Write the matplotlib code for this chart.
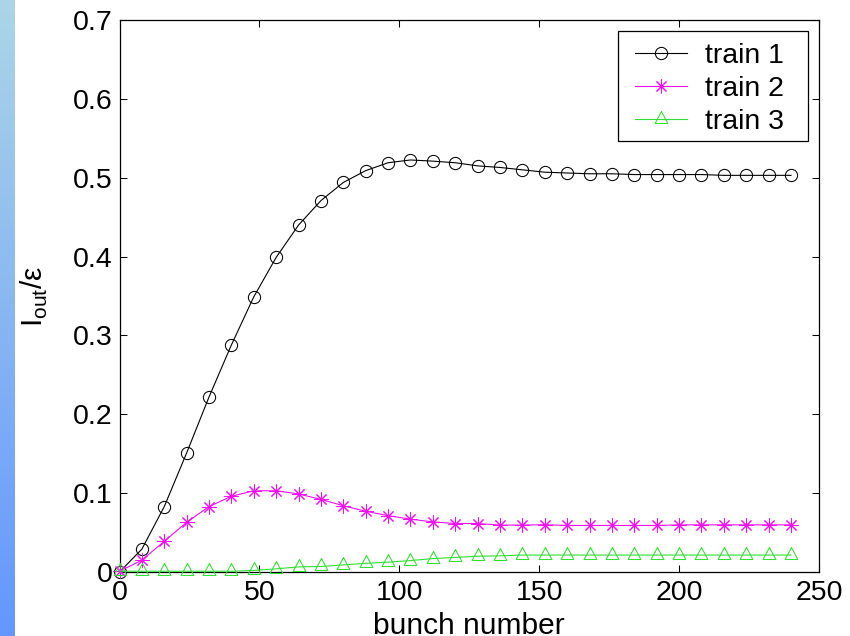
import numpy as np
import matplotlib
matplotlib.use('Agg')
import matplotlib.pyplot as plt
from matplotlib.patches import Rectangle

# ---------------- data ----------------
bunch = list(range(0, 241, 8))
train1 = [0.000, 0.029, 0.083, 0.151, 0.222, 0.288, 0.349, 0.399, 0.440, 0.471,
          0.494, 0.509, 0.519, 0.5225, 0.521, 0.519, 0.515, 0.513, 0.510, 0.507,
          0.506, 0.505, 0.505, 0.504, 0.504, 0.504, 0.504, 0.503, 0.503, 0.503,
          0.503]
train2 = [0.001, 0.015, 0.039, 0.063, 0.083, 0.096, 0.103, 0.103, 0.099, 0.092,
          0.084, 0.077, 0.0715, 0.067, 0.0635, 0.0615, 0.0615, 0.0595, 0.0595, 0.060,
          0.059, 0.059, 0.059, 0.059, 0.059, 0.0598, 0.0598, 0.0598, 0.0598, 0.0598,
          0.0598]
train3 = [0.001, 0.001, 0.001, 0.001, 0.001, 0.001, 0.002, 0.004, 0.0065, 0.007,
          0.009, 0.011, 0.0125, 0.0145, 0.017, 0.0185, 0.020, 0.0205, 0.0215, 0.0215,
          0.0215, 0.0215, 0.0215, 0.0215, 0.0215, 0.0215, 0.0215, 0.0215, 0.0215, 0.0215,
          0.0215]
series_labels = ['train 1', 'train 2', 'train 3']
x_ticks = [0, 50, 100, 150, 200, 250]
x_tick_labels = ['0', '50', '100', '150', '200', '250']
y_ticks = [0, 0.1, 0.2, 0.3, 0.4, 0.5, 0.6, 0.7]
y_tick_labels = ['0', '0.1', '0.2', '0.3', '0.4', '0.5', '0.6', '0.7']
x_label = 'bunch number'
y_label = r'I$_{\mathregular{out}}$/ε'

# ---------------- style ----------------
plt.rcParams['font.family'] = ['Liberation Sans', 'DejaVu Sans']
plt.rcParams['mathtext.fontset'] = 'custom'
plt.rcParams['mathtext.rm'] = 'Liberation Sans'

W, H = 850, 636
fig = plt.figure(figsize=(W / 100, H / 100), dpi=100)
fig.patch.set_facecolor('white')

# left decorative gradient strip
strip = fig.add_axes([0, 0, 14 / W, 1])
top_c = np.array([172, 214, 230]) / 255.0
bot_c = np.array([100, 150, 255]) / 255.0
t = np.linspace(0, 1, 256)[:, None]
grad = (top_c[None, :] * (1 - t) + bot_c[None, :] * t)[:, None, :]
strip.imshow(grad, aspect='auto', extent=[0, 1, 0, 1])
strip.set_axis_off()

ax = fig.add_axes([119.5 / W, 64 / H, 699.5 / W, 552 / H])

tri = [(0, 2), (-1.6, -1), (1.6, -1), (0, 2)]

ax.plot(bunch, train1, color='black', lw=0.8, marker='o', ms=8.8,
        mfc='none', mec='black', mew=0.75, label=series_labels[0], clip_on=False, zorder=3)
ax.plot(bunch, train2, color='#ee11ee', lw=0.8, marker=(8, 2, 0), ms=10,
        mec='#ee11ee', mew=0.75, label=series_labels[1], clip_on=False, zorder=3)
ax.plot(bunch, train3, color='#33dd33', lw=0.8, marker=tri, ms=11.5,
        mfc='none', mec='#33dd33', mew=0.75, label=series_labels[2], clip_on=False, zorder=3)

ax.set_xlim(0, 250)
ax.set_ylim(0, 0.7)
ax.set_xticks(x_ticks)
ax.set_xticklabels(x_tick_labels)
ax.set_yticks(y_ticks)
ax.set_yticklabels(y_tick_labels)
ax.tick_params(direction='in', length=5, width=0.75, top=True, right=True,
               labelsize=20.5, colors='black')
ax.tick_params(axis='x', pad=6)
ax.tick_params(axis='y', pad=5)
for s in ax.spines.values():
    s.set_linewidth(0.9)
    s.set_color('black')

ax.set_xlabel(x_label, fontsize=21.5, va='top')
ax.xaxis.set_label_coords(0.5, -0.0725)
ax.set_ylabel(y_label, fontsize=21.5)
ax.yaxis.set_label_coords(-0.10, 0.5)

leg = ax.legend(loc='upper left', bbox_to_anchor=(635 / W, 1 - 43 / H),
                bbox_transform=fig.transFigure, fontsize=20.5, frameon=False,
                handlelength=1.83, handletextpad=0.63, labelspacing=0.25,
                borderpad=0, borderaxespad=0)
frame = Rectangle((618 / W, 1 - 141 / H), 190 / W, 110 / H, transform=fig.transFigure,
                  fill=False, edgecolor='black', linewidth=0.9, zorder=5)
fig.add_artist(frame)

fig.savefig('out.png', dpi=100, facecolor='white')
